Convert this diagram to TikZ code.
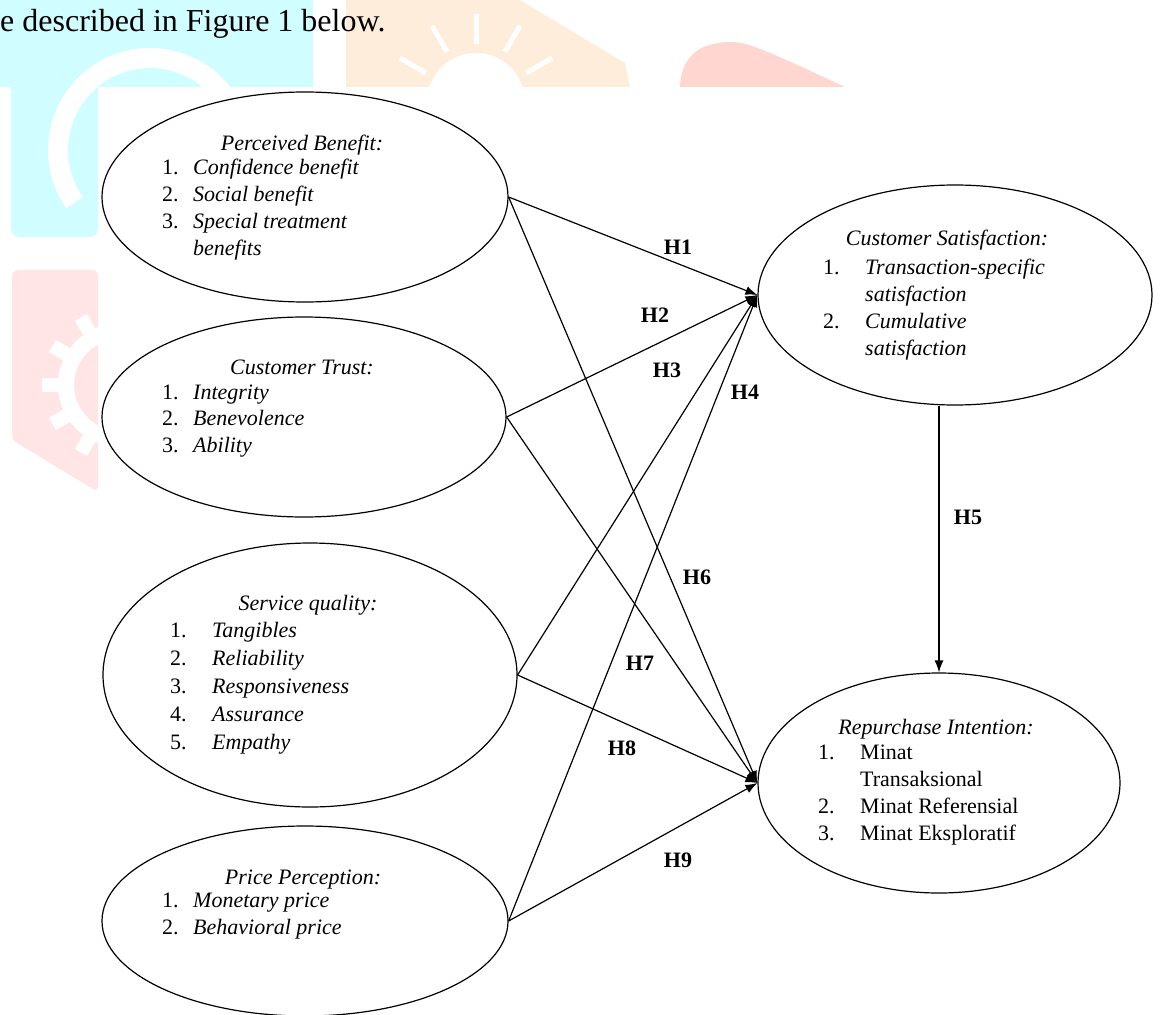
\documentclass[tikz,border=0pt]{standalone}
\usepackage{fontspec}
\setmainfont{Liberation Serif}
\usetikzlibrary{shapes.geometric,arrows.meta}
\definecolor{wmcyan}{RGB}{208,253,255}
\definecolor{wmorange}{RGB}{255,237,219}
\definecolor{wmred}{RGB}{255,214,208}
\definecolor{wmpink}{RGB}{255,229,229}
\begin{document}
\begin{tikzpicture}[x=1pt, y=-1pt,
    latent/.style = {draw, ellipse, fill=white, line width=1.2pt, inner sep=0pt},
    vartitle/.style = {anchor=base, inner sep=0pt, font=\fontsize{22}{27}\selectfont\itshape},
    varitems/.style = {anchor=base west, inner sep=0pt, font=\fontsize{22}{27}\selectfont},
    hyp/.style = {inner sep=0pt, font=\fontsize{22}{26}\selectfont\bfseries},
    hpath/.style = {line width=1.2pt, -{Latex[length=12pt, width=9pt]}}]
    \useasboundingbox (0,0) rectangle (1166,1014);
    % watermark in the background
    \fill[wmcyan] (0,0) rectangle (313,87);
    \fill[wmcyan, rounded corners=8pt] (11,80) -- (98,80) -- (98,237) -- (11,237) -- cycle;
    \draw[white, line width=20pt] (150,150) ++(-25:92) arc[start angle=-25, end angle=-215, radius=92];
    \fill[wmorange] (346,0) -- (520,0) -- (625,63) -- (630,87) -- (346,87) -- cycle;
    \fill[white] (476,102) circle (49);
    \foreach \a in {30,60,90,120,150}
        \draw[white, line width=5pt] (476,102) ++(-\a:58) -- ++(-\a:30);
    \fill[wmred] (680,87) .. controls (681,52) and (705,42) .. (732,42)
        .. controls (748,42) and (770,52) .. (845,87) -- cycle;
    \fill[wmpink, rounded corners=6pt] (12,270) -- (98,270) -- (98,492) -- (12,440) -- cycle;
    \draw[white, line width=16pt] (120,385) circle (54);
    \foreach \a in {120,150,180,210,240}
        \draw[white, line width=14pt] (120,385) ++(\a:55) -- ++(\a:23);

    \node[anchor=base west, inner sep=0pt, font=\fontsize{32}{37}\selectfont] (intro) at (0,32) {e described in Figure 1 below.};

    % latent variables
    \node[latent, minimum width=406pt, minimum height=210pt] (pb) at (305,197) {};
    \node[latent, minimum width=404pt, minimum height=200pt] (ct) at (304,417) {};
    \node[latent, minimum width=414pt, minimum height=264pt] (sq) at (310,675) {};
    \node[latent, minimum width=406pt, minimum height=190pt] (pp) at (305,921) {};
    \node[latent, minimum width=394pt, minimum height=220pt] (cs) at (955,295) {};
    \node[latent, minimum width=362pt, minimum height=220pt] (ri) at (939,783) {};

    \node[vartitle] (pbtitle) at (302,150) {Perceived Benefit:};
    \node[varitems] (pblist) at (162,174) {\begin{tabular}[t]{@{}p{31pt}@{}l@{}}
        1. & \textit{Confidence benefit}\\
        2. & \textit{Social benefit}\\
        3. & \textit{Special treatment}\\
           & \textit{benefits}\end{tabular}};

    \node[vartitle] (cttitle) at (302,374) {Customer Trust:};
    \node[varitems, font=\fontsize{22}{26.5}\selectfont] (ctlist) at (162,399) {\begin{tabular}[t]{@{}p{31pt}@{}l@{}}
        1. & \textit{Integrity}\\
        2. & \textit{Benevolence}\\
        3. & \textit{Ability}\end{tabular}};

    \node[vartitle] (sqtitle) at (308,610) {Service quality:};
    \node[varitems, font=\fontsize{22}{28}\selectfont] (sqlist) at (170,637) {\begin{tabular}[t]{@{}p{42pt}@{}l@{}}
        1. & \textit{Tangibles}\\
        2. & \textit{Reliability}\\
        3. & \textit{Responsiveness}\\
        4. & \textit{Assurance}\\
        5. & \textit{Empathy}\end{tabular}};

    \node[vartitle] (pptitle) at (303,884) {Price Perception:};
    \node[varitems] (pplist) at (162,907) {\begin{tabular}[t]{@{}p{31pt}@{}l@{}}
        1. & \textit{Monetary price}\\
        2. & \textit{Behavioral price}\end{tabular}};

    \node[vartitle] (cstitle) at (947,245) {Customer Satisfaction:};
    \node[varitems] (cslist) at (823,274) {\begin{tabular}[t]{@{}p{42pt}@{}l@{}}
        1. & \textit{Transaction-specific}\\
           & \textit{satisfaction}\\
        2. & \textit{Cumulative}\\
           & \textit{satisfaction}\end{tabular}};

    \node[vartitle] (rititle) at (936,734) {Repurchase Intention:};
    \node[varitems] (rilist) at (818,759) {\begin{tabular}[t]{@{}p{42pt}@{}l@{}}
        1. & Minat\\
           & Transaksional\\
        2. & Minat Referensial\\
        3. & Minat Eksploratif\end{tabular}};

    % hypotheses
    \draw[hpath] (pb.east) -- (cs.west);
    \draw[hpath] (ct.east) -- (cs.west);
    \draw[hpath] (sq.east) -- (cs.west);
    \draw[hpath] (pp.east) -- (cs.west);
    \draw[hpath] (cs.south -| ri.north) -- (ri.north);
    \draw[hpath] (pb.east) -- (ri.west);
    \draw[hpath] (ct.east) -- (ri.west);
    \draw[hpath] (sq.east) -- (ri.west);
    \draw[hpath] (pp.east) -- (ri.west);

    \node[hyp] (h1) at (678,247) {H1};
    \node[hyp] (h2) at (655,315) {H2};
    \node[hyp] (h3) at (667,370) {H3};
    \node[hyp] (h4) at (745,392) {H4};
    \node[hyp] (h5) at (968,517) {H5};
    \node[hyp] (h6) at (697,577) {H6};
    \node[hyp] (h7) at (640,663) {H7};
    \node[hyp] (h8) at (622,748) {H8};
    \node[hyp] (h9) at (678,860) {H9};
\end{tikzpicture}
\end{document}
